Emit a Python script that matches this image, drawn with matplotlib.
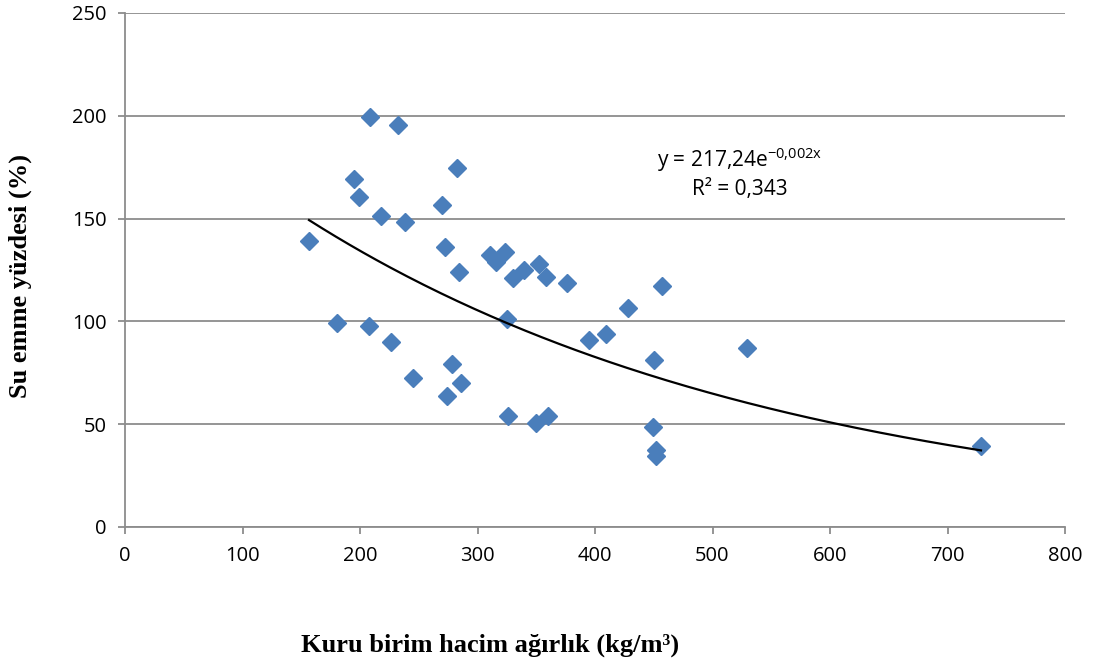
import numpy as np
import matplotlib
matplotlib.use("Agg")
import matplotlib.pyplot as plt

# dry unit weight (kg/m3) and water absorption (%)
kuru_birim = [156.6, 180.4, 194.9, 199.1, 208.5, 207.7, 217.9, 226.4, 232.3, 238.3,
              245.1, 269.8, 272.3, 274.0, 278.3, 282.6, 284.3, 286.0, 310.6, 315.7,
              323.4, 325.1, 326.0, 330.2, 339.6, 352.3, 358.3, 349.8, 360.0, 376.2,
              394.9, 409.4, 428.1, 450.2, 449.4, 451.9, 451.9, 457.0, 529.4, 728.5]
su_emme = [139.1, 99.2, 169.3, 160.5, 199.4, 97.8, 151.3, 90.0, 195.5, 148.3,
           72.5, 156.6, 136.2, 63.7, 79.3, 174.6, 124.0, 70.0, 132.3, 128.9,
           133.8, 101.2, 54.0, 121.1, 125.0, 127.9, 121.6, 50.6, 54.0, 118.7,
           91.0, 93.9, 106.5, 81.2, 48.6, 37.5, 34.5, 117.2, 87.1, 39.4]

x_ticks = [0, 100, 200, 300, 400, 500, 600, 700, 800]
y_ticks = [0, 50, 100, 150, 200, 250]

denklem = r"y = 217,24e$\mathregular{^{-0{,}002x}}$"
r_kare = "R² = 0,343"

x = np.array(kuru_birim)
y = np.array(su_emme)

# exponential trendline fitted on log(y)
b, ln_a = np.polyfit(x, np.log(y), 1)
xs = np.linspace(x.min(), x.max(), 200)
ys = np.exp(ln_a) * np.exp(b * xs)

plt.rcParams['font.family'] = ['Open Sans', 'DejaVu Sans']
plt.rcParams['mathtext.fontset'] = 'custom'
plt.rcParams['mathtext.rm'] = 'Open Sans'
plt.rcParams['axes.unicode_minus'] = False

fig = plt.figure(figsize=(10.94, 6.66), dpi=100)
ax = fig.add_axes([125 / 1094, 1 - 527 / 666, 940 / 1094, 514 / 666])

ax.plot(x, y, linestyle='none', marker='D', markersize=9.5,
        color='#4A7EBB', markeredgecolor='#4A7EBB', zorder=3)
ax.plot(xs, ys, color='black', linewidth=1.6, zorder=4)

ax.set_xlim(0, 800)
ax.set_ylim(0, 250)
ax.set_xticks(x_ticks)
ax.set_yticks(y_ticks)
ax.yaxis.grid(True, color='#8C8C8C', linewidth=1.3)
ax.set_axisbelow(True)

for side in ['top', 'right']:
    ax.spines[side].set_visible(False)
for side in ['left', 'bottom']:
    ax.spines[side].set_color('#8C8C8C')
    ax.spines[side].set_linewidth(1.3)

ax.tick_params(axis='both', direction='out', length=5, width=1.3,
               color='#8C8C8C', labelsize=14.5, labelcolor='black')
ax.tick_params(axis='x', pad=9)
ax.tick_params(axis='y', pad=8)

ax.text(523, 178.5, denklem, ha='center', va='center', fontsize=15)
ax.text(523, 164, r_kare, ha='center', va='center', fontsize=15)

fig.text(490 / 1094, 1 - 645 / 666, "Kuru birim hacim ağırlık (kg/m³)",
         ha='center', va='center', fontsize=19, fontweight='bold',
         family=['Liberation Serif', 'DejaVu Serif'])
fig.text(20 / 1094, 1 - 276 / 666, "Su emme yüzdesi (%)",
         ha='center', va='center', rotation=90, fontsize=19, fontweight='bold',
         family=['Liberation Serif', 'DejaVu Serif'])

fig.savefig("out.png", dpi=100)
